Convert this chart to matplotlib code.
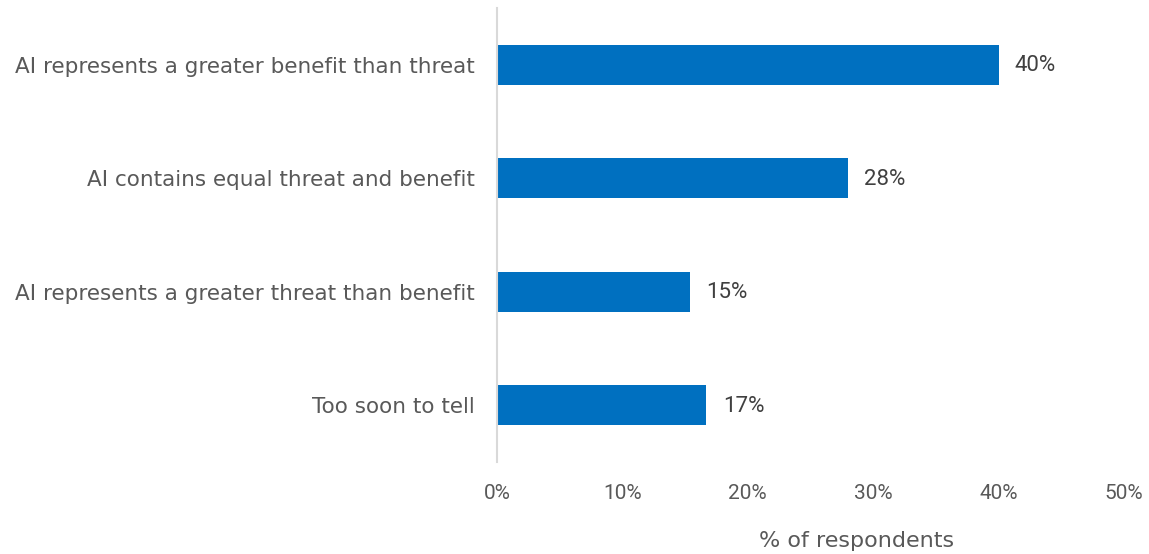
import matplotlib
matplotlib.use("Agg")
import matplotlib.pyplot as plt

categories = [
    "AI represents a greater benefit than threat",
    "AI contains equal threat and benefit",
    "AI represents a greater threat than benefit",
    "Too soon to tell",
]
values = [40.0, 28.0, 15.4, 16.7]
value_labels = ["40%", "28%", "15%", "17%"]
xticks = [0, 10, 20, 30, 40, 50]
xtick_labels = ["0%", "10%", "20%", "30%", "40%", "50%"]

BAR = "#0070C0"
TXT = "#595959"
VAL = "#404040"
SPINE = "#D9D9D9"
NUMFONT = ["Roboto", "DejaVu Sans"]

plt.rcParams["font.family"] = ["DejaVu Sans"]

fig = plt.figure(figsize=(11.49, 5.54), dpi=100)
ax = fig.add_axes([497 / 1149, 1 - 462 / 554, (1124 - 497) / 1149, 454 / 554])

ypos = list(range(len(categories)))
ax.barh(ypos, values, height=0.35, color=BAR)
ax.set_ylim(len(categories) - 0.5, -0.5)
ax.set_xlim(0, 50)

for y, v, lab in zip(ypos, values, value_labels):
    ax.text(v + 1.3, y + 0.01, lab, va="center", ha="left", fontsize=16,
            color=VAL, family=NUMFONT)

ax.set_yticks(ypos)
ax.set_yticklabels(categories, fontsize=15.5, color=TXT)
ax.set_xticks(xticks)
ax.set_xticklabels(xtick_labels, fontsize=15, color=TXT, family=NUMFONT)
ax.tick_params(axis="y", length=0, pad=16)
ax.tick_params(axis="x", length=0, pad=16)

for s in ["top", "right", "bottom"]:
    ax.spines[s].set_visible(False)
ax.spines["left"].set_color(SPINE)
ax.spines["left"].set_linewidth(1.5)

ax.set_xlabel("% of respondents", fontsize=16, color=TXT)
ax.xaxis.set_label_coords(0.573, -0.152)

fig.savefig("out.png", dpi=100, facecolor="white")
plt.close(fig)
